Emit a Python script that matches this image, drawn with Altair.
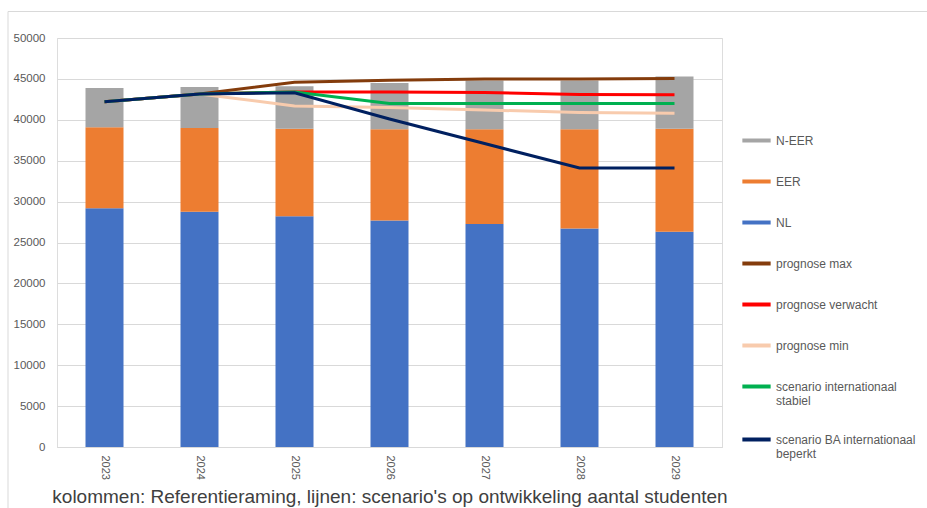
import altair as alt
import pandas as pd

years = ["2023", "2024", "2025", "2026", "2027", "2028", "2029"]
nl = [29200, 28750, 28200, 27700, 27250, 26700, 26300]
eer = [39100, 39000, 38900, 38850, 38850, 38850, 38900]   # cumulative top
neer = [43900, 44000, 44100, 44500, 44800, 44800, 45300]  # cumulative top

line_names = ["prognose max", "prognose verwacht", "prognose min",
              "scenario internationaal stabiel", "scenario BA internationaal beperkt"]
prog_max = [42200, 43150, 44600, 44850, 45000, 45000, 45050]
prog_verw = [42200, 43150, 43400, 43400, 43350, 43100, 43050]
prog_min = [42200, 43150, 41700, 41500, 41200, 40900, 40800]
scen_stab = [42200, 43150, 43400, 42000, 42000, 42000, 42000]
scen_bep = [42200, 43150, 43300, 40100, 37100, 34100, 34100]

bar_names = ["N-EER", "EER", "NL"]
legend_order = bar_names + line_names
colors = ["#A5A5A5", "#ED7D31", "#4472C4", "#843C0C", "#FF0000", "#F8CBAD", "#00B050", "#002060"]

rows = []
for i, y in enumerate(years):
    rows.append({"jaar": y, "reeks": "NL", "lo": 0, "hi": nl[i], "ord": 0})
    rows.append({"jaar": y, "reeks": "EER", "lo": nl[i], "hi": eer[i], "ord": 1})
    rows.append({"jaar": y, "reeks": "N-EER", "lo": eer[i], "hi": neer[i], "ord": 2})
bars_df = pd.DataFrame(rows)

lrows = []
for k, (name, vals) in enumerate(zip(line_names, [prog_max, prog_verw, prog_min, scen_stab, scen_bep])):
    for i, y in enumerate(years):
        lrows.append({"jaar": y, "reeks": name, "waarde": vals[i], "ord": k})
lines_df = pd.DataFrame(lrows)

W, H = 665, 409
color = alt.Color(
    "reeks:N",
    scale=alt.Scale(domain=legend_order, range=colors),
    legend=alt.Legend(
        title=None, orient="none", legendX=W + 18, legendY=86,
        symbolType="stroke", symbolSize=800, symbolStrokeWidth=4,
        labelFont="Liberation Sans", labelFontSize=12, labelColor="#595959",
        rowPadding=16, labelOffset=3, labelLimit=200,
        labelExpr="datum.label == 'scenario internationaal stabiel' ? ['scenario internationaal', 'stabiel'] : datum.label == 'scenario BA internationaal beperkt' ? ['scenario BA internationaal', 'beperkt'] : datum.label",
    ),
)

xaxis = alt.Axis(
    title="kolommen: Referentieraming, lijnen: scenario's op ontwikkeling aantal studenten",
    titleFont="Liberation Sans", titleFontSize=19, titleFontWeight="normal",
    titleColor="#404040", titlePadding=8,
    labelAngle=90, labelFont="Liberation Sans", labelFontSize=11,
    labelColor="#595959", labelPadding=8, labelAlign="left", labelBaseline="middle",
    ticks=False, domainColor="#d9d9d9", grid=False,
)
yaxis = alt.Axis(title=None, values=list(range(0, 50001, 5000)), format="d", ticks=False, domain=False,
                 gridColor="#d9d9d9", labelFont="Liberation Sans", labelFontSize=11.5,
                 labelColor="#595959", labelPadding=12)
yscale = alt.Scale(domain=[0, 50000])

bars = alt.Chart(bars_df).mark_bar(size=38).encode(
    x=alt.X("jaar:N", sort=years, scale=alt.Scale(paddingInner=0.6, paddingOuter=0.3), axis=xaxis),
    y=alt.Y("hi:Q", scale=yscale, axis=yaxis),
    y2="lo:Q",
    color=color,
)

lines = alt.Chart(lines_df).mark_line(strokeWidth=3).encode(
    x=alt.X("jaar:N", sort=years, axis=xaxis),
    y=alt.Y("waarde:Q", scale=yscale, axis=yaxis),
    color=color,
    order="ord:Q",
    detail="reeks:N",
)

border = alt.Chart(pd.DataFrame({"a": [0]})).mark_rect(
    fill=None, stroke="#d9d9d9", strokeWidth=1, clip=False
).encode(
    x=alt.value(-49), x2=alt.value(W + 260), y=alt.value(-26.5), y2=alt.value(H + 100)
)

chart = alt.layer(border, bars, lines).properties(
    width=W, height=H,
    autosize=alt.AutoSizeParams(type="none"),
    padding={"left": 57, "top": 38, "right": 205, "bottom": 61},
).configure_view(stroke=None).configure_axisX(grid=False).configure(background="white")

chart.save("out.html", embed_options={"renderer": "svg", "actions": False})
